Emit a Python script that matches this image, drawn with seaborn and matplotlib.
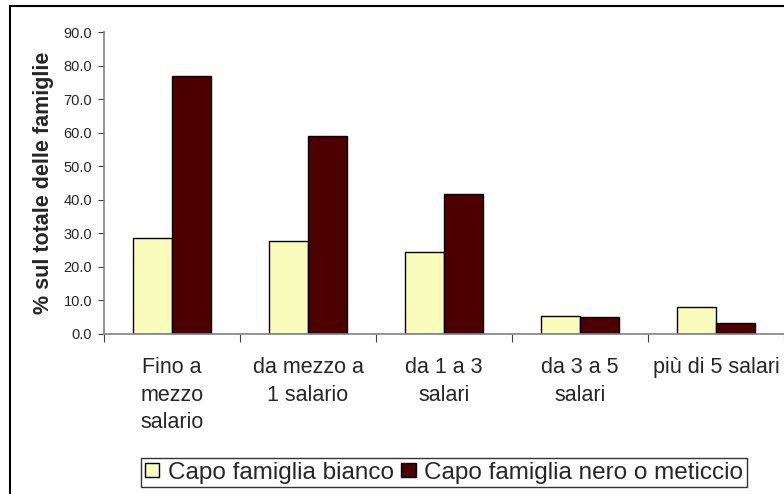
import pandas as pd
import matplotlib.pyplot as plt
import seaborn as sns
from matplotlib.patches import Rectangle
from matplotlib.ticker import FormatStrFormatter

fasce = ['Fino a\nmezzo\nsalario', 'da mezzo a\n1 salario', 'da 1 a 3\nsalari',
         'da 3 a 5\nsalari', 'più di 5 salari']
bianco = [28.6, 27.6, 24.4, 5.2, 8.0]
nero = [76.8, 59.1, 41.7, 4.9, 3.1]
serie = ['Capo famiglia bianco', 'Capo famiglia nero o meticcio']
colori = ['#F9FCBA', '#4D0000']

df = pd.DataFrame({
    'fascia': fasce * 2,
    'valore': bianco + nero,
    'capo': [serie[0]] * len(fasce) + [serie[1]] * len(fasce),
})

sns.set_style('white')
plt.rcParams['font.family'] = ['Liberation Sans', 'DejaVu Sans']

fig = plt.figure(figsize=(7.84, 4.94), dpi=100)
ax = fig.add_axes([104 / 784, 1 - 333.5 / 494, 1 - 104 / 784, (333.5 - 32.3) / 494])

sns.barplot(data=df, x='fascia', y='valore', hue='capo', palette=colori, saturation=1,
            width=0.57, edgecolor='black', linewidth=1, ax=ax)

ax.set_xlim(-0.5, 4.5)
ax.set_ylim(0, 90)
ax.set_yticks(range(0, 91, 10))
ax.yaxis.set_major_formatter(FormatStrFormatter('%.1f'))
ax.tick_params(axis='y', labelsize=10.5, length=4, width=0.8, color='#404040',
               left=True, pad=4.5)
ax.set_xticks([-0.5, 0.5, 1.5, 2.5, 3.5, 4.5], minor=True)
ax.tick_params(axis='x', which='minor', length=6, width=0.8, color='#404040', bottom=True)
ax.tick_params(axis='x', which='major', length=0, labelsize=15.5, pad=17)
for lab in ax.get_xticklabels():
    lab.set_linespacing(1.4)
    lab.set_verticalalignment('top')

for s in ['top', 'right']:
    ax.spines[s].set_visible(False)
for s in ['left', 'bottom']:
    ax.spines[s].set_color('#808080')
    ax.spines[s].set_linewidth(1.2)

ax.set_xlabel('')
ax.set_ylabel('% sul totale delle famiglie', fontsize=15.5, fontweight='bold', labelpad=7)

handles, labels = ax.get_legend_handles_labels()
ax.legend_.remove()
leg = fig.legend(handles, labels, loc='center', bbox_to_anchor=(444 / 784, 1 - 472.5 / 494),
                 ncol=2, fontsize=17.5, frameon=True, fancybox=False, edgecolor='black',
                 handlelength=0.6, handleheight=0.55, handletextpad=0.35,
                 columnspacing=0.3, borderpad=0.15, borderaxespad=0)
leg.get_frame().set_linewidth(1)

fig.patches.append(Rectangle((10 / 784, -0.1), 1.2, 1.1 - 6 / 494, transform=fig.transFigure,
                             fill=False, edgecolor='black', linewidth=1.5))

fig.savefig('out.png', dpi=100)
